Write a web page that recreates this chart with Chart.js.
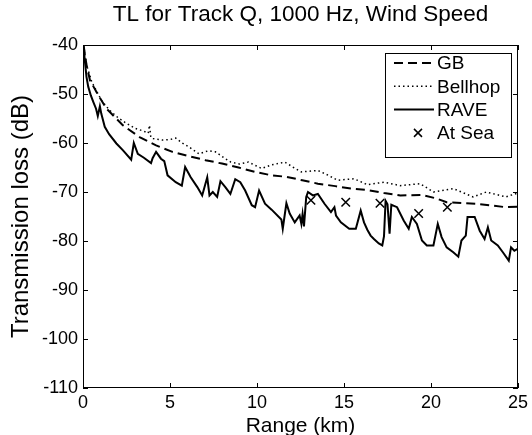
<!DOCTYPE html>
<html>
<head>
<meta charset="utf-8">
<script src="https://cdn.jsdelivr.net/npm/chart.js@4/dist/chart.umd.min.js"></script>
<style>
  html, body { margin: 0; padding: 0; background: #fff; }
  #wrap { width: 532px; height: 435px; }
</style>
</head>
<body>
<div id="wrap"><canvas id="tl-chart" width="532" height="435"></canvas></div>
<script>
// values (range in km, TL in dB)
const gbRange = [0.03, 0.2, 0.4, 0.87, 1.35, 2.3, 3.25, 4.2, 5.14, 6.09, 7.04, 7.99, 8.94, 9.89, 10.84, 11.69, 12.6, 13.5, 14.5, 15.39, 16.34, 17.3, 18.24, 19.48, 20.3, 20.9, 22.6, 24.3, 25];
const gbTL = [-40, -44, -47.2, -50.2, -53, -56.4, -58.8, -60.5, -61.8, -62.7, -63.5, -64.2, -65, -65.9, -66.6, -66.9, -67.6, -68.3, -68.8, -69.3, -69.6, -70.2, -70.7, -70.6, -71.3, -72.1, -72.4, -73.1, -73];

const bellhopRange = [0.03, 0.2, 0.5, 1.06, 1.5, 2, 2.5, 3, 3.5, 3.75, 3.82, 3.9, 4, 4.57, 5, 5.33, 5.7, 6.09, 6.66, 7.2, 7.61, 8.18, 8.5, 9, 9.5, 10.27, 10.8, 11.6, 12.1, 12.55, 13.5, 14.1, 14.63, 15.58, 16.34, 17.3, 18.24, 19.38, 20.14, 21.28, 22.42, 23.18, 24.3, 25];
const bellhopTL = [-40, -44, -47.5, -51.3, -53.2, -54.8, -56, -57, -57.6, -58, -56.4, -58.9, -59.1, -59.4, -59.3, -59, -60, -60.8, -62.2, -61.6, -61.8, -63.2, -63.9, -64.3, -63.9, -65.2, -64.5, -63.9, -65, -65.9, -65.6, -66.6, -67.6, -67.3, -68.5, -68, -68.7, -68.3, -70, -69.3, -71, -70, -71, -70.2];

const raveRange = [0.02, 0.1, 0.2, 0.3, 0.45, 0.59, 0.75, 0.85, 0.97, 1.05, 1.25, 1.5, 1.92, 2.3, 2.77, 2.92, 3.15, 3.5, 3.91, 4, 4.2, 4.48, 4.67, 4.86, 5.33, 5.68, 5.87, 6.19, 6.57, 6.85, 7.14, 7.27, 7.46, 7.71, 7.9, 8.18, 8.47, 8.75, 9.04, 9.32, 9.7, 9.89, 10.12, 10.46, 10.84, 11.4, 11.48, 11.69, 11.88, 12.17, 12.45, 12.55, 12.62, 12.7, 12.83, 12.93, 13.21, 13.5, 13.88, 14.25, 14.45, 14.54, 14.82, 15.3, 15.68, 15.96, 16.15, 16.34, 16.53, 16.72, 17, 17.2, 17.3, 17.39, 17.5, 17.62, 17.72, 18.05, 18.43, 18.72, 18.9, 19.19, 19.48, 19.76, 20.14, 20.39, 20.61, 20.9, 21.28, 21.57, 21.75, 22, 22.1, 22.51, 22.8, 23.08, 23.27, 23.46, 23.84, 24.13, 24.47, 24.6, 24.79, 24.98];
const raveTL = [-40, -43, -46.5, -48.5, -50.3, -51.6, -53, -54.5, -52.5, -54, -56.7, -58.2, -60.1, -61.5, -63.4, -60, -62.2, -63, -64.1, -63.1, -61.8, -63.2, -63.7, -66.6, -68, -68.7, -64.9, -67, -69, -70.7, -67, -70.7, -70, -71, -67.8, -69, -70.4, -67.4, -68, -69.7, -72.7, -73.1, -69.7, -72.4, -73.6, -75.6, -77.5, -72.3, -74.4, -76.2, -74.8, -76.5, -74.5, -77, -71, -70, -70.7, -70.4, -72.4, -74.1, -73.1, -74.8, -76.2, -77.5, -77.5, -73.8, -76.2, -77.7, -78.9, -79.6, -80.5, -80.9, -79, -71.8, -72.5, -78.5, -72.6, -73.1, -75.8, -77.5, -75.1, -76.5, -79.9, -80.9, -80.9, -76.5, -79.2, -81.3, -82.3, -83.2, -79.9, -78.9, -75.1, -75.1, -77.9, -79.6, -77.2, -79.9, -80.9, -82.3, -84, -81.3, -82, -81.6];

const seaRange = [13.1, 15.1, 17.07, 19.29, 20.94];
const seaTL = [-71.7, -72.1, -72.3, -74.4, -73.1];

const xTicks = [0, 5, 10, 15, 20, 25];
const yTicks = [-110, -100, -90, -80, -70, -60, -50, -40];

const legendNames = ["GB", "Bellhop", "RAVE", "At Sea"];

function pairs(xs, ys) {
  return xs.map((x, i) => ({ x: x, y: ys[i] }));
}

Chart.defaults.font.family = "'Liberation Sans', Arial, sans-serif";
Chart.defaults.color = "#000";

// matlab style box with inward ticks + legend in the upper right corner
const matlabBox = {
  id: "matlabBox",
  afterDraw(chart) {
    const { ctx, chartArea: a, scales } = chart;
    const len = 5;
    ctx.save();
    ctx.strokeStyle = "#000";
    ctx.lineWidth = 1;
    ctx.strokeRect(a.left + 0.5, a.top + 0.5, a.right - a.left - 1, a.bottom - a.top - 1);
    ctx.beginPath();
    xTicks.forEach(v => {
      const px = Math.round(scales.x.getPixelForValue(v)) + 0.5;
      ctx.moveTo(px, a.bottom); ctx.lineTo(px, a.bottom - len);
      ctx.moveTo(px, a.top); ctx.lineTo(px, a.top + len);
    });
    yTicks.forEach(v => {
      const py = Math.round(scales.y.getPixelForValue(v)) + 0.5;
      ctx.moveTo(a.left, py); ctx.lineTo(a.left + len, py);
      ctx.moveTo(a.right, py); ctx.lineTo(a.right - len, py);
    });
    ctx.stroke();

    // legend
    const bw = 126, bh = 104;
    const bx = a.right - 7 - bw, by = a.top + 8;
    ctx.fillStyle = "#fff";
    ctx.fillRect(bx, by, bw, bh);
    ctx.strokeRect(bx + 0.5, by + 0.5, bw, bh);
    ctx.font = "19px 'Liberation Sans', Arial, sans-serif";
    ctx.textBaseline = "middle";
    ctx.fillStyle = "#000";
    chart.data.datasets.forEach((ds, i) => {
      const cy = by + 10 + i * 23.3;
      const x0 = bx + 9, x1 = bx + 49;
      ctx.save();
      if (ds.showLine === false) {
        const cx = (x0 + x1) / 2 + 4, r = 4;
        ctx.lineWidth = 1.5;
        ctx.beginPath();
        ctx.moveTo(cx - r, cy - r); ctx.lineTo(cx + r, cy + r);
        ctx.moveTo(cx + r, cy - r); ctx.lineTo(cx - r, cy + r);
        ctx.stroke();
      } else {
        ctx.lineWidth = ds.borderWidth;
        ctx.setLineDash(ds.borderDash || []);
        ctx.beginPath();
        ctx.moveTo(x0, cy); ctx.lineTo(x1, cy);
        ctx.stroke();
      }
      ctx.restore();
      ctx.fillText(ds.label, x1 + 3, cy + 1);
    });
    ctx.restore();
  }
};

new Chart(document.getElementById("tl-chart"), {
  type: "scatter",
  data: {
    datasets: [
      {
        label: legendNames[0],
        data: pairs(gbRange, gbTL),
        showLine: true,
        borderColor: "#000",
        borderWidth: 2,
        borderDash: [9, 5],
        pointRadius: 0,
      },
      {
        label: legendNames[1],
        data: pairs(bellhopRange, bellhopTL),
        showLine: true,
        borderColor: "#000",
        borderWidth: 1.5,
        borderDash: [1.5, 3],
        pointRadius: 0,
      },
      {
        label: legendNames[2],
        data: pairs(raveRange, raveTL),
        showLine: true,
        borderColor: "#000",
        borderWidth: 2,
        pointRadius: 0,
      },
      {
        label: legendNames[3],
        data: pairs(seaRange, seaTL),
        showLine: false,
        pointStyle: "crossRot",
        pointRadius: 6,
        borderColor: "#000",
        backgroundColor: "#000",
        pointBorderWidth: 1.5,
      },
    ],
  },
  options: {
    responsive: false,
    animation: false,
    layout: { padding: { left: 0, right: 10, top: 0, bottom: 0 } },
    plugins: {
      legend: { display: false },
      tooltip: { enabled: false },
      title: {
        display: true,
        fullSize: false,
        text: "TL for Track Q, 1000 Hz, Wind Speed",
        font: { size: 22.5, weight: "normal", lineHeight: 1.2 },
        color: "#000",
        padding: { top: 1, bottom: 17 },
      },
    },
    scales: {
      x: {
        type: "linear",
        min: 0,
        max: 25,
        afterBuildTicks: s => { s.ticks = xTicks.map(v => ({ value: v })); },
        afterFit: s => { s.height = 47; },
        grid: { display: false, drawTicks: false },
        border: { display: false },
        ticks: { font: { size: 18 }, padding: 4, maxRotation: 0 },
        title: {
          display: true,
          text: "Range (km)",
          font: { size: 21, lineHeight: 0.86 },
          padding: { top: 0, bottom: 0 },
        },
      },
      y: {
        type: "linear",
        min: -110,
        max: -40,
        afterBuildTicks: s => { s.ticks = yTicks.map(v => ({ value: v })); },
        afterFit: s => { s.width = 83; },
        grid: { display: false, drawTicks: false },
        border: { display: false },
        ticks: { font: { size: 18 }, padding: 5 },
        title: {
          display: true,
          text: "Transmission loss (dB)",
          font: { size: 24, lineHeight: 1.2 },
          padding: { top: 7, bottom: 0 },
        },
      },
    },
  },
  plugins: [matlabBox],
});
</script>
</body>
</html>
